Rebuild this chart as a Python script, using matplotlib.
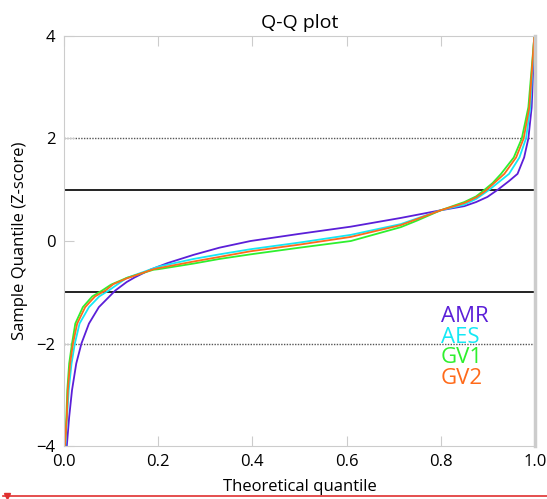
import matplotlib
matplotlib.use("Agg")
import matplotlib.pyplot as plt
from matplotlib.lines import Line2D

plt.rcParams["font.family"] = ["Open Sans", "DejaVu Sans"]

# theoretical quantile (p) and sample quantile (z)
amr_p = [0.0, 0.006, 0.011, 0.017, 0.026, 0.037, 0.053, 0.074, 0.109, 0.133,
         0.15, 0.183, 0.22, 0.275, 0.33, 0.396, 0.5, 0.609, 0.715, 0.8,
         0.85, 0.875, 0.899, 0.921, 0.945, 0.963, 0.977, 0.986, 0.993, 0.996,
         0.9986, 1.0]
amr_z = [-4.3, -3.99, -3.43, -2.91, -2.39, -2.0, -1.61, -1.29, -0.965, -0.80,
         -0.71, -0.56, -0.43, -0.27, -0.13, 0.0, 0.14, 0.28, 0.45, 0.6,
         0.68, 0.76, 0.86, 1.0, 1.17, 1.31, 1.63, 2.0, 2.61, 3.26,
         3.92, 4.3]

aes_p = [0.0, 0.003, 0.0064, 0.010, 0.016, 0.023, 0.033, 0.053, 0.075, 0.095,
         0.133, 0.17, 0.2, 0.275, 0.33, 0.396, 0.5, 0.609, 0.715, 0.8,
         0.85, 0.875, 0.903, 0.945, 0.967, 0.981, 0.990, 0.994, 0.998, 1.0]
aes_z = [-4.3, -3.99, -3.43, -2.91, -2.39, -2.0, -1.61, -1.29, -1.08, -0.965,
         -0.72, -0.60, -0.50, -0.35, -0.26, -0.16, -0.03, 0.12, 0.33, 0.6,
         0.71, 0.82, 1.0, 1.31, 1.63, 2.0, 2.61, 3.26, 3.92, 4.3]

gv1_p = [0.0, 0.002, 0.005, 0.007, 0.011, 0.017, 0.024, 0.040, 0.060, 0.081,
         0.1, 0.133, 0.19, 0.2, 0.275, 0.33, 0.396, 0.5, 0.609, 0.715,
         0.75, 0.8, 0.85, 0.875, 0.889, 0.91, 0.928, 0.955, 0.972, 0.986,
         0.992, 0.998, 1.0]
gv1_z = [-4.3, -3.99, -3.43, -2.91, -2.39, -2.0, -1.61, -1.29, -1.08, -0.965,
         -0.85, -0.72, -0.56, -0.55, -0.44, -0.35, -0.26, -0.13, 0.0, 0.27,
         0.40, 0.6, 0.76, 0.87, 0.97, 1.13, 1.31, 1.63, 2.0, 2.61,
         3.26, 3.92, 4.3]

gv2_p = [0.0, 0.002, 0.006, 0.008, 0.013, 0.019, 0.028, 0.045, 0.066, 0.088,
         0.105, 0.133, 0.19, 0.2, 0.275, 0.33, 0.396, 0.5, 0.609, 0.715,
         0.8, 0.85, 0.875, 0.894, 0.935, 0.96, 0.976, 0.988, 0.993, 0.998,
         1.0]
gv2_z = [-4.3, -3.99, -3.43, -2.91, -2.39, -2.0, -1.61, -1.29, -1.08, -0.965,
         -0.84, -0.73, -0.55, -0.53, -0.40, -0.31, -0.20, -0.07, 0.08, 0.31,
         0.6, 0.74, 0.85, 0.97, 1.31, 1.63, 2.0, 2.61, 3.26, 3.92,
         4.3]

names = ["AMR", "AES", "GV1", "GV2"]
colors = ["#5b1fd8", "#14e8f5", "#2ef02e", "#ff6a1a"]
series = [(amr_p, amr_z), (aes_p, aes_z), (gv1_p, gv1_z), (gv2_p, gv2_z)]

fig = plt.figure(figsize=(5.47, 4.99), dpi=100)
ax = fig.add_axes([0.117, 0.106, 0.861, 0.822])

ax.axhline(1, color="#222222", lw=1.4, zorder=1)
ax.axhline(-1, color="#222222", lw=1.4, zorder=1)
ax.axhline(2, color="#555555", lw=1.0, ls=(0, (1, 1)), zorder=1)
ax.axhline(-2, color="#555555", lw=1.0, ls=(0, (1, 1)), zorder=1)

for (p, z), c in zip(series, colors):
    ax.plot(p, z, color=c, lw=1.3, zorder=2)

# coloured-text legend
for k, (n, c) in enumerate(zip(names, colors)):
    ax.text(0.80, -1.47 - 0.404 * k, n, color=c, fontsize=16,
            va="center", ha="left")

ax.set_xlim(0, 1)
ax.set_ylim(-4, 4)
ax.set_xticks([0.0, 0.2, 0.4, 0.6, 0.8, 1.0])
ax.set_yticks([-4, -2, 0, 2, 4])
ax.set_xticklabels(["0.0", "0.2", "0.4", "0.6", "0.8", "1.0"])
ax.tick_params(direction="in", length=7, color="#cccccc", labelsize=12,
               top=True, bottom=True, left=True, right=False, pad=6)
for s in ax.spines.values():
    s.set_color("#cccccc")
ax.spines["right"].set_linewidth(2.5)

ax.set_title("Q-Q plot", fontsize=14, pad=6)
ax.set_xlabel("Theoretical quantile", fontsize=12, labelpad=6)
ax.set_ylabel("Sample Quantile (Z-score)", fontsize=12, labelpad=6)

# red rule along the bottom edge
fig.add_artist(Line2D([0.005, 1.0], [0.006, 0.006], color="#e03030", lw=1.2,
                      transform=fig.transFigure))
fig.add_artist(Line2D([0.012], [0.006], color="#e03030", marker="v",
                      markersize=5, transform=fig.transFigure))

fig.savefig("out.png", dpi=100)
